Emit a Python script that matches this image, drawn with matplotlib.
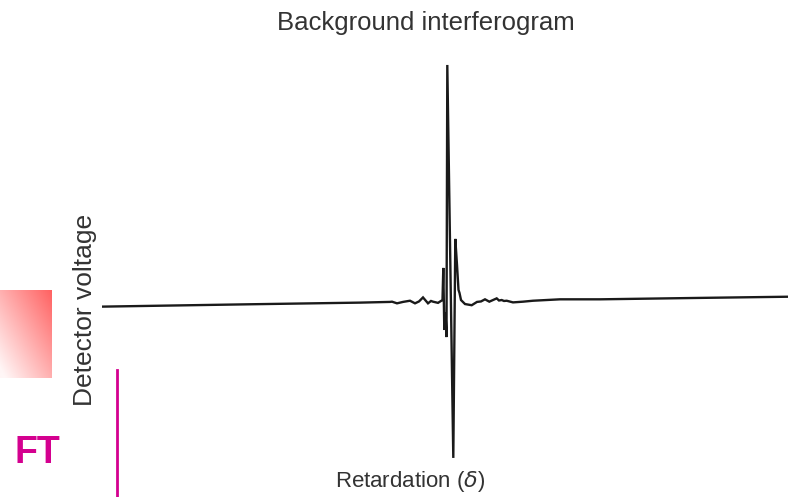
#!/usr/bin/env python3
"""Background interferogram sketch -> out.png"""
import numpy as np
import matplotlib
matplotlib.use("Agg")
import matplotlib.pyplot as plt
from matplotlib.colors import LinearSegmentedColormap

plt.rcParams["font.family"] = ["Liberation Sans", "DejaVu Sans"]

# retardation (arbitrary units, 0 = zero path difference)
delta = [-34.5, -19.7, -8.7, -5.7, -5.5, -5.0, -4.4, -3.7, -3.2, -2.8, -2.4,
         -2.1, -1.9, -1.6, -1.4, -1.1, -0.9, -0.6, -0.45, -0.37, -0.27,
         -0.15, -0.05, 0.03, 0.63, 0.83, 1.0, 1.15, 1.25, 1.4, 1.8, 2.47,
         3.0, 3.4, 3.8, 4.23, 4.6, 4.97, 5.2, 5.47, 5.7, 5.97, 6.6, 7.6, 8.6,
         11.3, 15.3, 25.3, 34.1]
# detector voltage (arbitrary units)
voltage = [-0.024, -0.014, -0.007, -0.004, -0.003, -0.010, -0.004, 0.001,
           -0.010, -0.002, 0.015, 0.000, -0.010, 0.000, -0.003, -0.006,
           -0.008, 0.000, 0.004, 0.140, -0.123, -0.047, -0.153, 1.000,
           -0.665, 0.263, 0.153, 0.047, 0.034, 0.004, -0.013, -0.018, -0.004,
           -0.002, 0.007, -0.003, 0.004, 0.011, 0.002, 0.004, 0.000, 0.001,
           -0.006, -0.003, 0.001, 0.007, 0.007, 0.013, 0.018]

fig = plt.figure(figsize=(7.89, 4.97), dpi=100)

# pink gradient tab at left edge
grad_ax = fig.add_axes([0, 119 / 497, 52 / 789, 88 / 497])
gx, gy = np.meshgrid(np.linspace(0, 1, 60), np.linspace(0, 1, 100))
pink = LinearSegmentedColormap.from_list("pink", ["#fff6f6", "#ff6262"])
grad_ax.imshow((gx + gy) / 2, cmap=pink, origin="lower", aspect="auto",
               extent=[0, 1, 0, 1], vmin=0.05, vmax=1.0)
grad_ax.axis("off")

# main plot
ax = fig.add_axes([102 / 789, 32 / 497, 686 / 789, 405 / 497])
ax.plot(delta, voltage, color="#1a1a1a", lw=1.7, solid_joinstyle="miter")
ax.set_xlim(-34.5, 34.1)
ax.set_ylim(-0.695, 1.021)
ax.axis("off")

fig.text(426 / 789, 1 - 23 / 497, "Background interferogram",
         ha="center", va="center", fontsize=18.5, color="#333333")
fig.text(410 / 789, 1 - 481 / 497, r"Retardation ($\delta$)",
         ha="center", va="center", fontsize=16, color="#333333")
fig.text(85 / 789, 1 - 310 / 497, "Detector voltage", rotation=90,
         ha="center", va="center", fontsize=19, color="#333333")

# FT marker and magenta rule
fig.text(37 / 789, 1 - 453 / 497, "FT", ha="center", va="center",
         fontsize=27, fontweight="bold", color="#d4008f")
fig.add_artist(plt.Line2D([117 / 789, 117 / 789], [0, 1 - 370 / 497],
                          color="#d4008f", lw=2))

fig.savefig("out.png", dpi=100)
